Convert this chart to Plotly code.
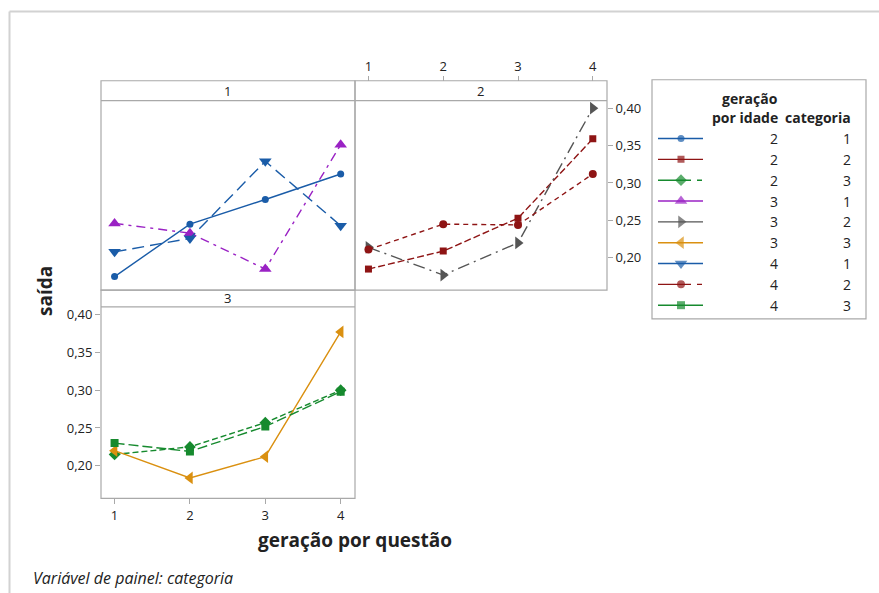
import plotly.graph_objects as go

# ---- data -------------------------------------------------------------
questao = [1, 2, 3, 4]
geracao_idade = [2, 2, 2, 3, 3, 3, 4, 4, 4]
categoria = [1, 2, 3, 1, 2, 3, 1, 2, 3]

saida_g2_c1 = [0.175, 0.245, 0.278, 0.312]
saida_g2_c2 = [0.185, 0.209, 0.253, 0.359]
saida_g2_c3 = [0.215, 0.225, 0.257, 0.300]
saida_g3_c1 = [0.246, 0.233, 0.185, 0.351]
saida_g3_c2 = [0.214, 0.177, 0.220, 0.400]
saida_g3_c3 = [0.220, 0.184, 0.212, 0.377]
saida_g4_c1 = [0.208, 0.226, 0.329, 0.243]
saida_g4_c2 = [0.211, 0.245, 0.244, 0.312]
saida_g4_c3 = [0.230, 0.219, 0.252, 0.298]

y_tick_vals = [0.20, 0.25, 0.30, 0.35, 0.40]
y_tick_text = ["0,20", "0,25", "0,30", "0,35", "0,40"]

series_values = [saida_g2_c1, saida_g2_c2, saida_g2_c3,
                 saida_g3_c1, saida_g3_c2, saida_g3_c3,
                 saida_g4_c1, saida_g4_c2, saida_g4_c3]

# ---- styles -----------------------------------------------------------
BLUE, RED, GREEN = "#1A5CA8", "#8E1414", "#168A2E"
PURPLE, GRAY, ORANGE = "#9A22C4", "#555555", "#DA9010"
styles = [
    dict(color=BLUE, symbol="circle", size=7, dash="solid", key="solid"),
    dict(color=RED, symbol="square", size=7, dash="7px,3px", key="solid"),
    dict(color=GREEN, symbol="diamond", size=9, dash="6px,3px", key="33px,6px,5px"),
    dict(color=PURPLE, symbol="triangle-up", size=11, dash="9px,5px,3px,5px", key="solid"),
    dict(color=GRAY, symbol="triangle-right", size=11, dash="12px,5px,2px,5px", key="solid"),
    dict(color=ORANGE, symbol="triangle-left", size=11, dash="solid", key="solid"),
    dict(color=BLUE, symbol="triangle-down", size=11, dash="12px,6px", key="solid"),
    dict(color=RED, symbol="circle", size=8, dash="5px,4px", key="33px,6px,5px"),
    dict(color=GREEN, symbol="square", size=8, dash="10px,4px", key="solid"),
]

FONT = "Open Sans"
FRAME = "#A9A9A9"
TXT = "#222222"
W, H = 879, 593


def px(x):
    return x / W


def py(y):
    return 1 - y / H


# panel geometry (pixel boxes)
panels = {
    1: dict(x0=101, x1=355, y0=99, y1=289, hy0=79),
    2: dict(x0=355, x1=607, y0=99, y1=289, hy0=79),
    3: dict(x0=101, x1=355, y0=306, y1=498, hy0=289),
}
axis_of_cat = {1: ("x", "y"), 2: ("x2", "y2"), 3: ("x3", "y3")}

fig = go.Figure()

for i, vals in enumerate(series_values):
    st = styles[i]
    xa, ya = axis_of_cat[categoria[i]]
    fig.add_trace(go.Scatter(
        x=questao, y=vals, xaxis=xa, yaxis=ya, mode="lines+markers",
        line=dict(color=st["color"], width=1.4, dash=st["dash"]),
        marker=dict(color=st["color"], symbol=st["symbol"], size=st["size"], line=dict(width=0)),
        showlegend=False, hoverinfo="skip",
    ))

# ---- legend drawn on its own axis --------------------------------------
LX0, LX1, LY0, LY1 = 652, 866, 78, 318
row_y0, row_step = 59, 20.9
for i in range(len(series_values)):
    st = styles[i]
    ry = row_y0 + i * row_step
    fig.add_trace(go.Scatter(
        x=[6, 29, 51], y=[ry, ry, ry], xaxis="x4", yaxis="y4", mode="lines+markers",
        line=dict(color=st["color"], width=1.4, dash=st["key"]),
        marker=dict(color=st["color"], symbol=st["symbol"], size=[0, st["size"], 0], line=dict(width=0)),
        showlegend=False, hoverinfo="skip",
    ))

LFONT = dict(family=FONT, size=14, color=TXT)
annotations = []
for i in range(len(series_values)):
    ry = row_y0 + i * row_step
    annotations.append(dict(x=128, y=ry, xref="x4", yref="y4", text=str(geracao_idade[i]),
                            xanchor="right", yanchor="middle", showarrow=False, font=LFONT))
    annotations.append(dict(x=201, y=ry, xref="x4", yref="y4", text=str(categoria[i]),
                            xanchor="right", yanchor="middle", showarrow=False, font=LFONT))
annotations.append(dict(x=128, y=19, xref="x4", yref="y4", text="<b>geração</b>",
                        xanchor="right", yanchor="middle", showarrow=False, font=LFONT))
annotations.append(dict(x=128, y=38, xref="x4", yref="y4", text="<b>por idade</b>",
                        xanchor="right", yanchor="middle", showarrow=False, font=LFONT))
annotations.append(dict(x=201, y=38, xref="x4", yref="y4", text="<b>categoria</b>",
                        xanchor="right", yanchor="middle", showarrow=False, font=LFONT))

# ---- panel frames and header strips -------------------------------------
shapes = []
for cat, p in panels.items():
    shapes.append(dict(type="rect", xref="paper", yref="paper",
                       x0=px(p["x0"]), x1=px(p["x1"]), y0=py(p["y1"]), y1=py(p["hy0"]),
                       line=dict(color=FRAME, width=1.2), fillcolor="rgba(0,0,0,0)", layer="above"))
    shapes.append(dict(type="line", xref="paper", yref="paper",
                       x0=px(p["x0"]), x1=px(p["x1"]), y0=py(p["y0"]), y1=py(p["y0"]),
                       line=dict(color=FRAME, width=1.2), layer="above"))
    annotations.append(dict(x=px((p["x0"] + p["x1"]) / 2), y=py((p["hy0"] + p["y0"]) / 2),
                            xref="paper", yref="paper", text=str(cat), showarrow=False,
                            xanchor="center", yanchor="middle",
                            font=dict(family=FONT, size=13, color=TXT)))

# legend box
shapes.append(dict(type="rect", xref="paper", yref="paper",
                   x0=px(LX0), x1=px(LX1), y0=py(LY1), y1=py(LY0),
                   line=dict(color=FRAME, width=1.2), fillcolor="rgba(0,0,0,0)"))
# outer border of the graph window
shapes.append(dict(type="line", xref="paper", yref="paper", x0=px(9.5), x1=1.0,
                   y0=py(9.5), y1=py(9.5), line=dict(color="#D2D2D2", width=2)))
shapes.append(dict(type="line", xref="paper", yref="paper", x0=px(9.5), x1=px(9.5),
                   y0=0, y1=py(9.5), line=dict(color="#D2D2D2", width=2)))

# axis titles and footnote
annotations.append(dict(x=px(45), y=py(290), xref="paper", yref="paper", text="<b>saída</b>",
                        textangle=-90, showarrow=False, xanchor="center", yanchor="middle",
                        font=dict(family=FONT, size=19, color=TXT)))
annotations.append(dict(x=px(355), y=py(540), xref="paper", yref="paper",
                        text="<b>geração por questão</b>", showarrow=False,
                        xanchor="center", yanchor="middle",
                        font=dict(family=FONT, size=19, color=TXT)))
annotations.append(dict(x=px(31), y=py(578), xref="paper", yref="paper",
                        text="<i>Variável de painel: categoria</i>", showarrow=False,
                        xanchor="left", yanchor="middle",
                        font=dict(family=FONT, size=16, color=TXT)))

XR = [0.82, 4.19]
YR = [0.157, 0.410]
tickfont = dict(family=FONT, size=13, color=TXT)
hidden = dict(showgrid=False, zeroline=False, showticklabels=False, ticks="", showline=False)


def dom_x(p):
    return [px(p["x0"]), px(p["x1"])]


def dom_y(p):
    return [py(p["y1"]), py(p["y0"])]


fig.update_layout(
    width=W, height=H, margin=dict(l=0, r=0, t=0, b=0),
    paper_bgcolor="white", plot_bgcolor="white",
    xaxis=dict(domain=dom_x(panels[1]), range=XR, anchor="y", **hidden),
    yaxis=dict(domain=dom_y(panels[1]), range=YR, anchor="x", **hidden),
    xaxis2=dict(domain=dom_x(panels[2]), range=XR, anchor="free", position=py(79), side="top",
                tickvals=questao, ticktext=[str(q) for q in questao], ticks="outside",
                ticklen=5, tickcolor=FRAME, tickfont=tickfont, showgrid=False,
                zeroline=False, showline=False),
    yaxis2=dict(domain=dom_y(panels[2]), range=YR, anchor="x2", side="right",
                tickvals=y_tick_vals, ticktext=y_tick_text, ticks="outside", ticklen=5,
                tickcolor=FRAME, tickfont=tickfont, showgrid=False, zeroline=False, showline=False),
    xaxis3=dict(domain=dom_x(panels[3]), range=XR, anchor="y3",
                tickvals=questao, ticktext=[str(q) for q in questao], ticks="outside",
                ticklen=5, tickcolor=FRAME, tickfont=tickfont, showgrid=False,
                zeroline=False, showline=False),
    yaxis3=dict(domain=dom_y(panels[3]), range=YR, anchor="x3",
                tickvals=y_tick_vals, ticktext=y_tick_text, ticks="outside", ticklen=5,
                tickcolor=FRAME, tickfont=tickfont, showgrid=False, zeroline=False, showline=False),
    xaxis4=dict(domain=[px(LX0), px(LX1)], range=[0, LX1 - LX0], anchor="y4", **hidden),
    yaxis4=dict(domain=[py(LY1), py(LY0)], range=[LY1 - LY0, 0], anchor="x4", **hidden),
    shapes=shapes, annotations=annotations,
)

fig.write_html("out.html")
